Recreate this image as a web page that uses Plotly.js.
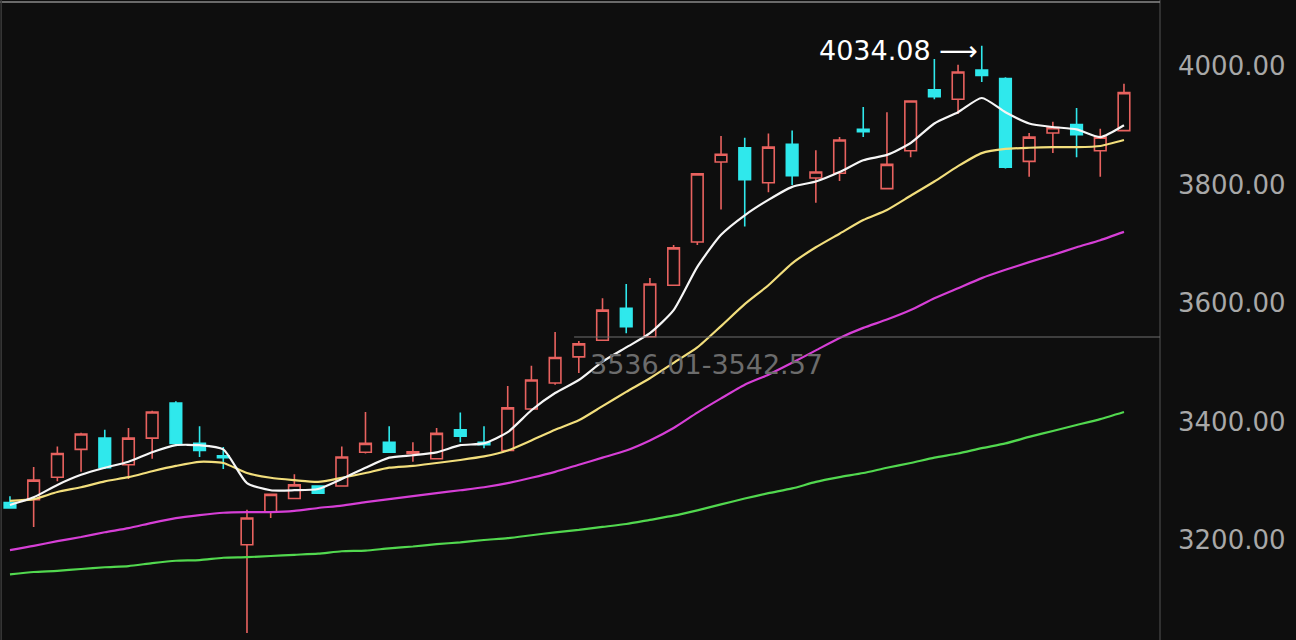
<!DOCTYPE html>
<html>
<head>
<meta charset="utf-8">
<script src="https://cdn.plot.ly/plotly-3.0.1.min.js"></script>
<style>
html,body{margin:0;padding:0;background:#0e0e0e;}
#chart{width:1296px;height:640px;}
</style>
</head>
<body>
<div id="chart"></div>
<script>
// bar index (trading sessions)
const idx = Array.from({length: 48}, (_, i) => i);

const openV  = [3263,3268,3306,3353,3372,3327,3372,3431,3363,3342,3192,3247,3270,3291,3291,3348,3365,3346,3337,3386,3365,3351,3421,3465,3509,3537,3591,3543,3630,3703,3838,3862,3803,3868,3811,3819,3893,3793,3857,3960,3944,3993,3979,3839,3887,3901,3857,3891];
const highV  = [3274,3323,3358,3381,3386,3389,3418,3434,3392,3357,3251,3277,3311,3291,3358,3416,3392,3365,3389,3415,3392,3460,3494,3551,3536,3608,3632,3642,3698,3818,3882,3879,3886,3891,3858,3880,3931,3922,3941,4012,4002,4034.08,3981,3887,3906,3929,3894,3970];
const lowV   = [3253,3222,3299,3315,3320,3303,3337,3361,3340,3320,3043,3237,3270,3279,3291,3346,3348,3332,3337,3365,3355,3351,3421,3462,3482,3537,3549,3543,3630,3698,3758,3729,3787,3799,3769,3806,3880,3793,3846,3944,3919,3973,3827,3813,3853,3846,3813,3891];
const closeV = [3254,3301,3346,3379,3322,3372,3416,3363,3351,3339,3237,3277,3293,3279,3340,3363,3348,3349,3380,3375,3361,3423,3470,3508,3531,3588,3560,3632,3693,3818,3851,3808,3863,3815,3821,3875,3889,3834,3941,3948,3990,3984,3829,3880,3896,3884,3880,3955];

const ma5  = [3259,3272,3293,3310,3322,3332,3348,3360,3360,3353,3296,3284,3284,3286,3303,3322,3339,3343,3348,3360,3363,3382,3419,3448,3470,3501,3525,3549,3588,3661,3715,3748,3774,3796,3805,3821,3841,3850,3870,3903,3922,3946,3922,3903,3897,3893,3880,3900];
const ma10 = [3266,3269,3281,3289,3299,3306,3316,3325,3332,3330,3313,3305,3301,3298,3305,3313,3322,3325,3330,3335,3341,3351,3368,3386,3402,3426,3450,3473,3499,3525,3561,3598,3630,3667,3694,3717,3740,3757,3781,3805,3831,3853,3860,3862,3863,3863,3865,3875];
const ma30 = [3183,3190,3198,3205,3213,3220,3229,3237,3242,3246,3247,3247,3249,3254,3258,3264,3269,3274,3279,3284,3289,3296,3305,3315,3327,3339,3351,3368,3389,3415,3439,3462,3479,3499,3520,3541,3558,3572,3588,3608,3625,3642,3656,3669,3681,3694,3706,3720];
const ma60 = [3142,3146,3148,3151,3154,3156,3161,3165,3166,3170,3171,3173,3175,3177,3181,3182,3186,3189,3193,3196,3200,3203,3208,3213,3217,3222,3227,3234,3241,3250,3260,3270,3279,3287,3298,3306,3313,3322,3330,3339,3346,3355,3363,3374,3384,3394,3404,3416];

const tickVals = [3200, 3400, 3600, 3800, 4000];
const tickText = ['3200.00', '3400.00', '3600.00', '3800.00', '4000.00'];

const gapLow = 3536.01, gapHigh = 3542.57;
const gapStartIdx = 23.8;
const peakIdx = 41, peakVal = 4034.08;

const RED = '#e8625f', CYAN = '#2fe8ec', BG = '#0e0e0e';

const maLine = (y, color) => ({
  x: idx, y: y, type: 'scatter', mode: 'lines',
  line: {color: color, width: 2.2, shape: 'spline', smoothing: 0.6},
  hoverinfo: 'skip', showlegend: false
});

const traces = [
  maLine(ma60, '#52d84f'),
  maLine(ma30, '#d63fd6'),
  maLine(ma10, '#f2de7c'),
  maLine(ma5, '#f6f6f6'),
  {
    type: 'candlestick', x: idx, open: openV, high: highV, low: lowV, close: closeV,
    increasing: {line: {color: RED, width: 1.6}, fillcolor: BG},
    decreasing: {line: {color: CYAN, width: 1.6}, fillcolor: CYAN},
    whiskerwidth: 0, hoverinfo: 'skip', showlegend: false
  }
];

const layout = {
  width: 1296, height: 640,
  paper_bgcolor: BG, plot_bgcolor: BG,
  margin: {l: 0, r: 136, t: 0, b: 0},
  showlegend: false,
  xaxis: {range: [-0.42, 48.52], showgrid: false, zeroline: false, showticklabels: false,
          rangeslider: {visible: false}, fixedrange: true, showline: false},
  yaxis: {range: [3031.2, 4111.4], side: 'right', showgrid: false, zeroline: false,
          tickvals: tickVals, ticktext: tickText, ticks: '', ticklabelstandoff: 17,
          tickfont: {family: 'DejaVu Sans', size: 26, color: '#a8a8a8'}, showline: false},
  shapes: [
    {type: 'line', xref: 'paper', yref: 'paper', x0: 1, x1: 1, y0: 0, y1: 1, line: {color: '#3c3c3c', width: 1.5}},
    {type: 'line', xref: 'paper', yref: 'paper', x0: 0, x1: 1, y0: 0.997, y1: 0.997, line: {color: '#8a8a8a', width: 1.5}},
    {type: 'line', xref: 'paper', yref: 'paper', x0: 0.001, x1: 0.001, y0: 0, y1: 1, line: {color: '#3a3a3a', width: 1.5}},
    {type: 'line', xref: 'x', yref: 'y', x0: gapStartIdx, x1: 48.52, y0: gapHigh, y1: gapHigh, line: {color: '#6e6e6e', width: 1.2}}
  ],
  annotations: [
    {x: 29.4, y: 3497, xref: 'x', yref: 'y', showarrow: false,
     text: gapLow.toFixed(2) + '-' + gapHigh.toFixed(2),
     font: {family: 'DejaVu Sans', size: 27, color: '#6c6c6c'}},
    {x: peakIdx, y: 4027, xref: 'x', yref: 'y', showarrow: false, xanchor: 'right', xshift: -2,
     text: peakVal.toFixed(2) + ' ⟶',
     font: {family: 'DejaVu Sans', size: 27, color: '#ffffff'}}
  ]
};

Plotly.newPlot('chart', traces, layout, {staticPlot: true, displayModeBar: false});
</script>
</body>
</html>
